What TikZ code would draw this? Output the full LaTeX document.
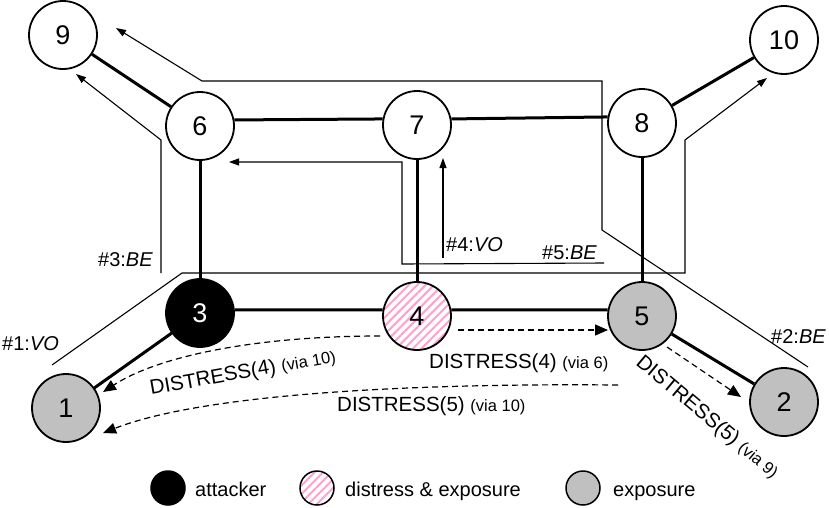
\documentclass[tikz,border=0pt]{standalone}
\usepackage{fontspec}
\setmainfont{Liberation Sans}
\usetikzlibrary{arrows.meta,patterns.meta}
\definecolor{exgrey}{RGB}{192,192,192}
\definecolor{hpink}{RGB}{255,160,205}
\tikzset{
  netnode/.style={circle, draw, line width=1.8pt, minimum size=68pt, inner sep=0pt, font=\fontsize{27}{27}\selectfont},
  attnode/.style={netnode, fill=black, text=white},
  expnode/.style={netnode, fill=exgrey},
  disnode/.style={netnode, pattern={Lines[angle=45,distance=6pt,line width=2pt]}, pattern color=hpink},
  legnode/.style={minimum size=34pt, line width=1.5pt},
  link/.style={line width=3pt},
  route/.style={line width=1.1pt},
  routearrow/.style={route, -{Triangle[length=10pt,width=7pt]}},
  msg/.style={line width=1.2pt, dash pattern=on 6pt off 4pt, -{Triangle[length=13pt,width=11pt]}},
  lbl/.style={font=\fontsize{20}{20}\selectfont, inner sep=0pt},
  msglbl/.style={font=\fontsize{20.5}{20.5}\selectfont, inner sep=0pt},
  legtext/.style={font=\fontsize{20}{20}\selectfont, inner sep=0pt, anchor=base west},
}
\newcommand{\via}[1]{{\fontsize{16.5}{16.5}\selectfont (via #1)}}
\begin{document}
\begin{tikzpicture}[x=1pt,y=-1pt]
\useasboundingbox (0,0) rectangle (830,507);
% nodes
\node[netnode] (n9) at (63,35) {9};
\node[netnode] (n6) at (200,126) {6};
\node[netnode] (n7) at (417,125) {7};
\node[netnode] (n8) at (642,123) {8};
\node[netnode] (n10) at (784,40) {10};
\node[attnode] (n3) at (200,313) {3};
\node[disnode] (n4) at (417,316) {4};
\node[expnode] (n5) at (642,316) {5};
\node[expnode] (n1) at (66,408) {1};
\node[expnode] (n2) at (784,402) {2};
% links
\draw[link] (n9) -- (n6);
\draw[link] (n6.10) -- (n7.170);
\draw[link] (n7.10) -- (n8.170);
\draw[link] (n8) -- (n10);
\draw[link] (n6) -- (n3);
\draw[link] (n7) -- (n4);
\draw[link] (n8) -- (n5);
\draw[link] (n3.5) -- (n4.170);
\draw[link] (n4.10) -- (n5.170);
\draw[link] (n3) -- (n1);
\draw[link] (n5) -- (n2);
% routes
\coordinate (r1a) at (52,365);
\coordinate (r1b) at (182,273);
\coordinate (r1c) at (685,273);
\coordinate (r1d) at (685,140);
\coordinate (r1e) at (767,78);
\draw[routearrow] (r1a) -- (r1b) -- (r1c) -- (r1d) -- (r1e);
\coordinate (r2a) at (808,367);
\coordinate (r2b) at (602,230);
\coordinate (r2c) at (602,81);
\coordinate (r2d) at (202,81);
\coordinate (r2e) at (116,28);
\draw[routearrow] (r2a) -- (r2b) -- (r2c) -- (r2d) -- (r2e);
\coordinate (r3a) at (161,273);
\coordinate (r3b) at (161,140);
\coordinate (r3c) at (76,74);
\draw[routearrow] (r3a) -- (r3b) -- (r3c);
\coordinate (r4a) at (443,258);
\coordinate (r4b) at (443,158);
\draw[routearrow] (r4a) -- (r4b);
\coordinate (r5a) at (604,263);
\coordinate (r5b) at (402,264);
\coordinate (r5c) at (402,162);
\coordinate (r5d) at (229,162);
\draw[routearrow] (r5a) -- (r5b) -- (r5c) -- (r5d);
% route labels
\node[lbl, anchor=base west] (t1) at (2,350) {\#1:\textit{VO}};
\node[lbl, anchor=base west] (t2) at (771,343) {\#2:\textit{BE}};
\node[lbl, anchor=base east] (t3) at (153,266) {\#3:\textit{BE}};
\node[lbl, anchor=base west] (t4) at (446,251) {\#4:\textit{VO}};
\node[lbl, anchor=base west] (t5) at (542,259) {\#5:\textit{BE}};
% messages
\coordinate (m1s) at (380,336);
\coordinate (m1e) at (103,392);
\draw[msg] (m1s) .. controls (260,336) and (160,355) .. (m1e);
\coordinate (m2s) at (618,385);
\coordinate (m2e) at (103,433);
\draw[msg] (m2s) .. controls (400,383) and (200,395) .. (m2e);
\coordinate (m3s) at (458,330);
\coordinate (m3e) at (608,330);
\draw[msg] (m3s) -- (m3e);
\coordinate (m4s) at (667,347);
\coordinate (m4e) at (741,397);
\draw[msg] (m4s) -- (m4e);
\node[msglbl, rotate=10, anchor=base west] (d1) at (151,395) {DISTRESS(4) \via{10}};
\node[msglbl, anchor=base west] (d2) at (337,411) {DISTRESS(5) \via{10}};
\node[msglbl, anchor=base west] (d3) at (429,368) {DISTRESS(4) \via{6}};
\node[msglbl, rotate=-40, anchor=base west] (d4) at (635,364) {DISTRESS(5) \via{9}};
% legend
\node[attnode, legnode] (l1) at (168,488) {};
\node[legtext] (lt1) at (195,496) {attacker};
\node[disnode, legnode] (l2) at (317,488) {};
\node[legtext] (lt2) at (345,496) {distress \& exposure};
\node[expnode, legnode] (l3) at (583,488) {};
\node[legtext] (lt3) at (613,496) {exposure};
\end{tikzpicture}
\end{document}
